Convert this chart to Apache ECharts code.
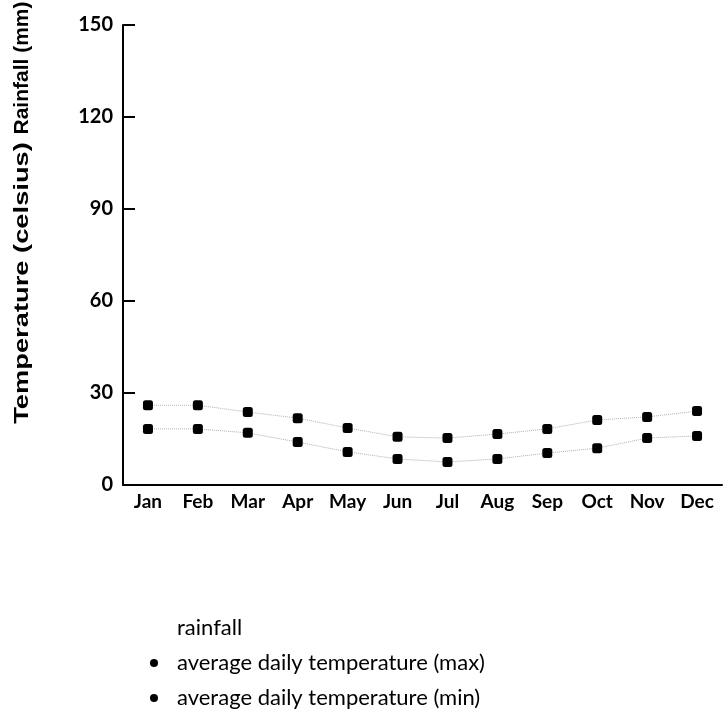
<!DOCTYPE html>
<html>
<head>
<meta charset="utf-8">
<script src="https://cdn.jsdelivr.net/npm/echarts@6/dist/echarts.min.js"></script>
<style>
html,body{margin:0;padding:0;background:#fff;}
#chart{width:723px;height:718px;}
</style>
</head>
<body>
<div id="chart"></div>
<script>
var months = ['Jan','Feb','Mar','Apr','May','Jun','Jul','Aug','Sep','Oct','Nov','Dec'];
var tempMax = [26, 26, 23.8, 21.8, 18.6, 15.7, 15.3, 16.6, 18.3, 21.2, 22.2, 24.1];
var tempMin = [18.3, 18.3, 17, 14, 10.8, 8.5, 7.5, 8.5, 10.4, 12, 15.3, 16];
var rainfall = [];
var yTicks = [0, 30, 60, 90, 120, 150];

var chart = echarts.init(document.getElementById('chart'), null, {renderer:'canvas'});
var labelFont = 'Lato';
function seriesFor(name, data){
  return {
    name: name, type: 'line', data: data,
    symbol: 'roundRect', symbolSize: 10,
    itemStyle: {color: '#000'},
    lineStyle: {color: '#b0b0b0', width: 1, type: 'dotted'},
    z: 3
  };
}
chart.setOption({
  animation: false,
  backgroundColor: '#fff',
  grid: {left: 123, right: 1, top: 25, bottom: 233, containLabel: false},
  xAxis: {
    type: 'category', data: months, boundaryGap: true,
    axisLine: {lineStyle: {color: '#000', width: 2}},
    axisTick: {inside: true, length: 10, interval: 0, lineStyle: {color: '#000', width: 2}},
    axisLabel: {color: '#000', fontFamily: labelFont, fontWeight: 'bold', fontSize: 19, margin: 7, interval: 0, hideOverlap: false}
  },
  yAxis: {
    type: 'value', min: yTicks[0], max: yTicks[yTicks.length-1], interval: 30,
    axisLine: {show: true, lineStyle: {color: '#000', width: 2}},
    axisTick: {show: true, inside: true, length: 12, lineStyle: {color: '#000', width: 2}},
    splitLine: {show: false},
    axisLabel: {color: '#000', fontFamily: labelFont, fontWeight: 'bold', fontSize: 20, margin: 10}
  },
  legend: {
    orient: 'vertical', left: 145, top: 612, itemGap: 13,
    itemWidth: 8, itemHeight: 8,
    textStyle: {color: '#000', fontFamily: labelFont, fontSize: 22, padding: [0,0,0,14]},
    data: [
      {name: 'rainfall', icon: 'none'},
      {name: 'average daily temperature (max)', icon: 'circle'},
      {name: 'average daily temperature (min)', icon: 'circle'}
    ]
  },
  graphic: [
    {type: 'text', x: 22, y: 68, rotation: Math.PI/2,
     style: {text: 'Rainfall (mm)', fill: '#000', font: 'bold 21px "Liberation Sans"', align: 'center', verticalAlign: 'middle'}},
    {type: 'text', x: 22, y: 283, rotation: Math.PI/2, scaleX: 1.3,
     style: {text: 'Temperature (celsius)', fill: '#000', font: 'bold 21px "Liberation Sans"', align: 'center', verticalAlign: 'middle'}}
  ],
  series: [
    {name: 'rainfall', type: 'bar', data: rainfall, itemStyle: {color: '#000'}},
    seriesFor('average daily temperature (max)', tempMax),
    seriesFor('average daily temperature (min)', tempMin)
  ]
});
</script>
</body>
</html>
